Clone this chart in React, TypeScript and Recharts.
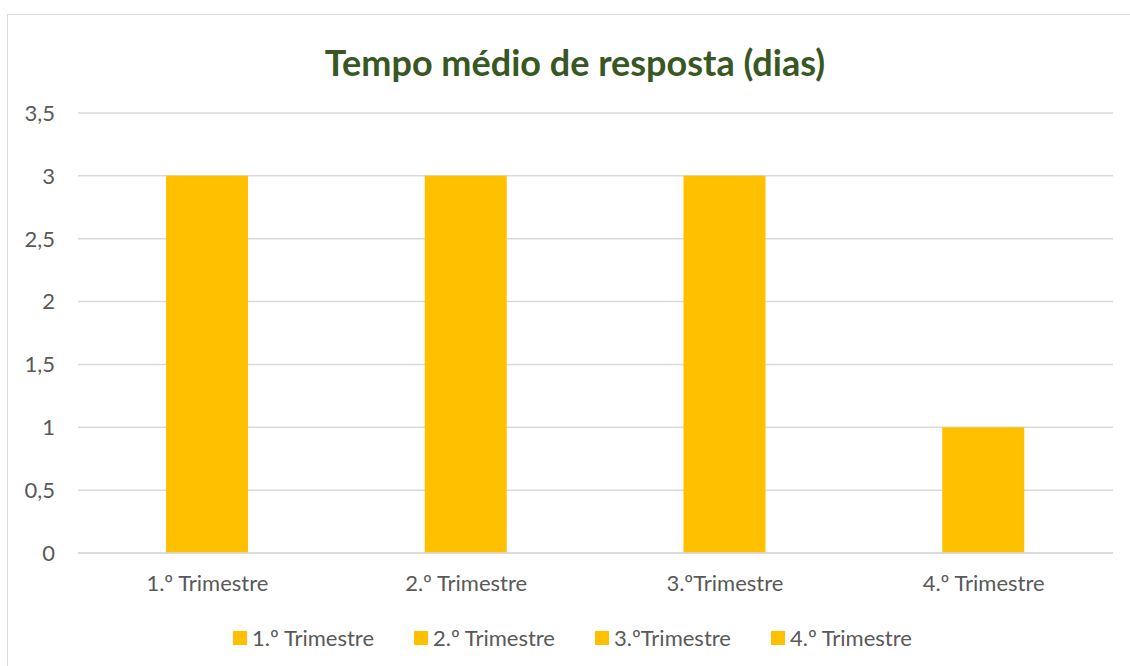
import React from 'react';
import { BarChart, Bar, XAxis, YAxis, CartesianGrid, Legend, Cell } from 'recharts';

const categories = ['1.º Trimestre', '2.º Trimestre', '3.ºTrimestre', '4.º Trimestre'];
const values = [3, 3, 3, 1];
const yTicks = [0, 0.5, 1, 1.5, 2, 2.5, 3, 3.5];

const BAR_COLOR = '#FFC000';
const GRID = '#D9D9D9';
const TEXT = '#595959';
const FONT = 'Lato, "Open Sans", sans-serif';

const data = categories.map((name, i) => ({ name, value: values[i] }));

const fmt = (v: number) => String(v).replace('.', ',');

function LegendBox() {
  return (
    <div
      style={{
        height: 73,
        display: 'flex',
        justifyContent: 'center',
        alignItems: 'flex-start',
        paddingTop: 31,
        paddingLeft: 14,
        boxSizing: 'border-box',
        fontFamily: FONT,
        fontSize: 22,
        color: TEXT,
      }}
    >
      {categories.map((c) => (
        <div key={c} style={{ display: 'flex', alignItems: 'center', margin: '0 20px' }}>
          <span style={{ width: 14, height: 14, background: BAR_COLOR, marginRight: 5 }} />
          <span>{c}</span>
        </div>
      ))}
    </div>
  );
}

export default function App() {
  return (
    <div style={{ position: 'absolute', left: 0, top: 0, width: 1130, height: 666, background: '#fff', overflow: 'hidden' }}>
      <div
        style={{
          position: 'absolute',
          left: 7,
          top: 14,
          width: 1140,
          height: 670,
          border: `1px solid ${GRID}`,
          boxSizing: 'border-box',
        }}
      />
      <div
        style={{
          position: 'absolute',
          left: 0,
          width: 1150,
          top: 40,
          textAlign: 'center',
          fontFamily: FONT,
          fontWeight: 700,
          fontSize: 36,
          color: '#385723',
          lineHeight: '44px',
        }}
      >
        Tempo médio de resposta (dias)
      </div>
      <div style={{ position: 'absolute', left: 0, top: 0 }}>
        <BarChart width={1130} height={666} data={data} margin={{ top: 113, right: 17, left: 18, bottom: 0 }}>
          <CartesianGrid vertical={false} stroke={GRID} strokeWidth={1.5} />
          <XAxis
            dataKey="name"
            height={40}
            tickLine={false}
            axisLine={{ stroke: GRID, strokeWidth: 1.5 }}
            tickMargin={16}
            tick={{ fill: TEXT, fontSize: 22, fontFamily: FONT }}
            interval={0}
          />
          <YAxis
            width={60}
            domain={[0, 3.5]}
            ticks={yTicks}
            tickFormatter={fmt}
            tickLine={false}
            axisLine={false}
            tickMargin={17}
            tick={{ fill: TEXT, fontSize: 22, fontFamily: FONT }}
          />
          <Legend verticalAlign="bottom" content={() => <LegendBox />} />
          <Bar dataKey="value" barSize={82} isAnimationActive={false}>
            {data.map((d) => (
              <Cell key={d.name} fill={BAR_COLOR} />
            ))}
          </Bar>
        </BarChart>
      </div>
    </div>
  );
}
